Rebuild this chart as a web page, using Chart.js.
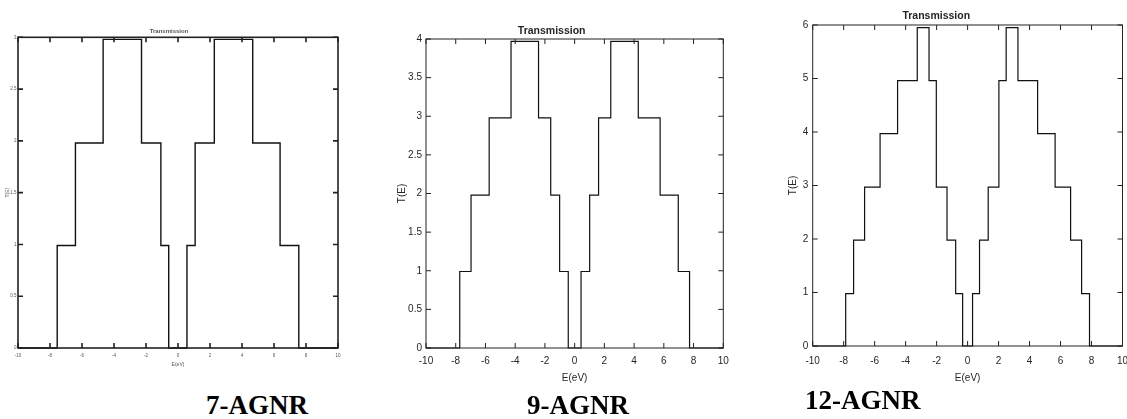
<!DOCTYPE html>
<html>
<head>
<meta charset="utf-8">
<script src="https://cdn.jsdelivr.net/npm/chart.js@4.4.1/dist/chart.umd.min.js"></script>
<style>
  html, body { margin: 0; padding: 0; background: #fff; }
  body { width: 1127px; height: 419px; position: relative; overflow: hidden; }
  .panel { position: absolute; top: 0; }
  .tag {
    position: absolute;
    font-family: "Liberation Serif", "Times New Roman", serif;
    font-weight: bold;
    font-size: 27px;
    line-height: 27px;
    color: #000;
    white-space: nowrap;
  }
</style>
</head>
<body>

<div class="panel" style="left:0px;width:360px;height:380px;"><canvas id="agnr7"></canvas></div>
<div class="panel" style="left:380px;width:360px;height:390px;"><canvas id="agnr9"></canvas></div>
<div class="panel" style="left:750px;width:377px;height:390px;"><canvas id="agnr12"></canvas></div>

<div class="tag" style="left:206px;top:392px;">7-AGNR</div>
<div class="tag" style="left:527px;top:392px;">9-AGNR</div>
<div class="tag" style="left:805px;top:387px;">12-AGNR</div>

<script>
// ---- data: energy where each step happens, level after it ----
const E7  = [-10, -7.55, -6.41, -4.68, -2.28, -1.07, -0.58, 0.56, 1.07, 2.27, 4.67, 6.38, 7.55, 10];
const T7  = [0, 0.99, 1.98, 2.98, 1.98, 0.99, 0, 0.99, 1.98, 2.98, 1.98, 0.99, 0, 0];

const E9  = [-10, -7.73, -6.97, -5.75, -4.28, -2.43, -1.61, -1.01, -0.43, 0.43, 1.01, 1.61, 2.43, 4.28, 5.75, 6.97, 7.73, 10];
const T9  = [0, 0.99, 1.98, 2.98, 3.97, 2.98, 1.98, 0.99, 0, 0.99, 1.98, 2.98, 3.97, 2.98, 1.98, 0.99, 0, 0];

const E12 = [-10, -7.87, -7.36, -6.65, -5.65, -4.52, -3.25, -2.49, -2.02, -1.33, -0.77, -0.32,
             0.32, 0.77, 1.33, 2.02, 2.49, 3.25, 4.52, 5.65, 6.65, 7.36, 7.87, 10];
const T12 = [0, 0.98, 1.98, 2.97, 3.97, 4.96, 5.95, 4.96, 2.97, 1.98, 0.98, 0,
             0.98, 1.98, 2.97, 4.96, 5.95, 4.96, 3.97, 2.97, 1.98, 0.98, 0, 0];

const xTicks = [-10, -8, -6, -4, -2, 0, 2, 4, 6, 8, 10];
const TITLE = 'Transmission';
const X_LABEL = 'E(eV)';
const Y_LABEL = 'T(E)';

// MATLAB style box with inward ticks on all four sides
const boxTicks = {
  id: 'boxTicks',
  afterDatasetsDraw(chart, args, opts) {
    const { ctx, chartArea: a, scales: { x, y } } = chart;
    const len = opts.len;
    ctx.save();
    ctx.strokeStyle = opts.color;
    ctx.lineWidth = opts.width;
    ctx.beginPath();
    x.ticks.forEach(t => {
      const px = x.getPixelForValue(t.value);
      ctx.moveTo(px, a.bottom); ctx.lineTo(px, a.bottom - len);
      ctx.moveTo(px, a.top);    ctx.lineTo(px, a.top + len);
    });
    y.ticks.forEach(t => {
      const py = y.getPixelForValue(t.value);
      ctx.moveTo(a.left, py);  ctx.lineTo(a.left + len, py);
      ctx.moveTo(a.right, py); ctx.lineTo(a.right - len, py);
    });
    ctx.stroke();
    ctx.strokeRect(a.left, a.top, a.right - a.left, a.bottom - a.top);
    ctx.restore();
  }
};

function makePanel(id, E, T, cfg) {
  const pts = E.map((e, i) => ({ x: e, y: T[i] }));
  const family = '"Liberation Sans", Arial, sans-serif';
  new Chart(document.getElementById(id), {
    type: 'line',
    data: {
      datasets: [{
        data: pts,
        stepped: 'before',
        borderColor: '#111',
        borderWidth: cfg.lineW,
        pointRadius: 0,
        fill: false,
        clip: false
      }]
    },
    options: {
      responsive: true,
      maintainAspectRatio: false,
      animation: false,
      events: [],
      layout: { padding: { left: 0, right: cfg.padRight, top: 0, bottom: 0 } },
      plugins: {
        legend: { display: false },
        tooltip: { enabled: false },
        title: {
          display: true,
          text: TITLE,
          color: cfg.textColor,
          font: { family: family, size: cfg.titleSize, weight: 'bold' },
          padding: { top: cfg.titleTop, bottom: cfg.titleBottom }
        },
        boxTicks: { len: cfg.tickLen, width: cfg.boxW, color: '#222' }
      },
      scales: {
        x: {
          type: 'linear',
          min: -10, max: 10,
          afterBuildTicks: s => { s.ticks = xTicks.map(v => ({ value: v })); },
          grid: { display: false, drawTicks: false },
          border: { display: false },
          ticks: {
            color: cfg.textColor,
            font: { family: family, size: cfg.tickSize },
            padding: cfg.xTickPad,
            maxRotation: 0,
            autoSkip: false,
            callback: v => String(v)
          },
          title: {
            display: true,
            text: X_LABEL,
            color: cfg.textColor,
            font: { family: family, size: cfg.labelSize },
            padding: { top: 0, bottom: cfg.xTitleBottom }
          },
          afterFit: s => { s.height = cfg.xHeight; s.paddingLeft = 0; s.paddingRight = 0; }
        },
        y: {
          type: 'linear',
          min: 0, max: cfg.yMax,
          ticks: {
            stepSize: cfg.yStep,
            color: cfg.textColor,
            font: { family: family, size: cfg.tickSize },
            padding: cfg.yTickPad,
            callback: v => String(v)
          },
          grid: { display: false, drawTicks: false },
          border: { display: false },
          title: {
            display: true,
            text: Y_LABEL,
            color: cfg.textColor,
            font: { family: family, size: cfg.labelSize },
            padding: { top: cfg.yTitleTop, bottom: 0 }
          },
          afterFit: s => { s.width = cfg.yWidth; s.paddingTop = 0; s.paddingBottom = 0; }
        }
      }
    },
    plugins: [boxTicks]
  });
}

makePanel('agnr7', E7, T7, {
  yMax: 3, yStep: 0.5, lineW: 1.4, boxW: 1.6, tickLen: 5,
  textColor: '#555', titleSize: 6, tickSize: 4.5, labelSize: 5,
  titleTop: 27.9, titleBottom: 2.2, padRight: 22,
  yWidth: 18, yTickPad: 1.5, yTitleTop: 4.3,
  xHeight: 32, xTickPad: 5, xTitleBottom: 12.3
});

makePanel('agnr9', E9, T9, {
  yMax: 4, yStep: 0.5, lineW: 1.2, boxW: 1, tickLen: 5,
  textColor: '#262626', titleSize: 10.5, tickSize: 10, labelSize: 10,
  titleTop: 24.7, titleBottom: 1.7, padRight: 16.7,
  yWidth: 46, yTickPad: 4, yTitleTop: 16,
  xHeight: 42, xTickPad: 7, xTitleBottom: 6
});

makePanel('agnr12', E12, T12, {
  yMax: 6, yStep: 1, lineW: 1.2, boxW: 1, tickLen: 5,
  textColor: '#262626', titleSize: 10.5, tickSize: 10, labelSize: 10,
  titleTop: 9.7, titleBottom: 2.7, padRight: 4.5,
  yWidth: 62.7, yTickPad: 4.4, yTitleTop: 37.3,
  xHeight: 44, xTickPad: 9, xTitleBottom: 5.7
});
</script>
</body>
</html>
